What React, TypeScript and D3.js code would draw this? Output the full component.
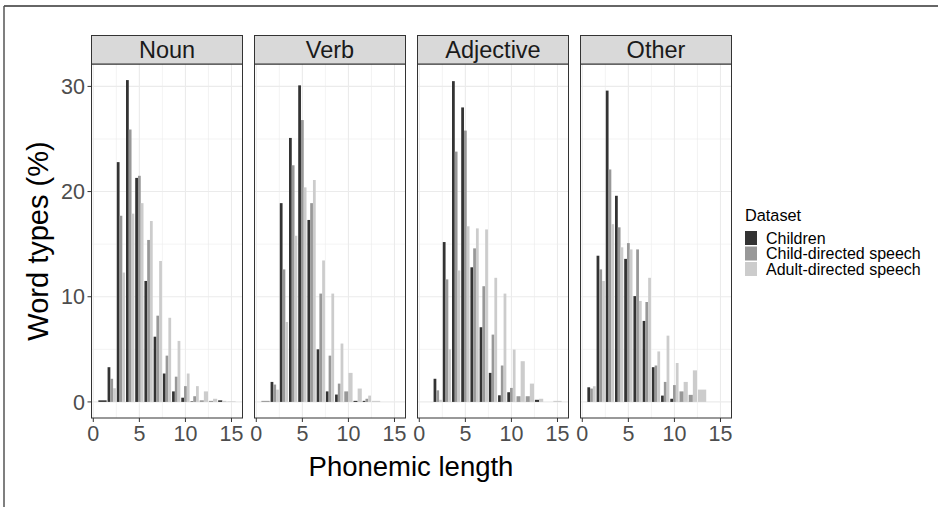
import React from "react";
import * as d3 from "d3";

const categories = ["Noun", "Verb", "Adjective", "Other"];
const datasets = ["Children", "Child-directed speech", "Adult-directed speech"];
const colors = ["#333333", "#989898", "#CCCCCC"];
const lengths = [1, 2, 3, 4, 5, 6, 7, 8, 9, 10, 11, 12, 13, 14, 15];
const xTicks = [0, 5, 10, 15];
const xMinor = [2.5, 7.5, 12.5];
const yTicks = [0, 10, 20, 30];
const yMinor = [5, 15, 25];

type V = number | null;

const nounChildren: V[] = [0.15, 3.3, 22.8, 30.6, 21.3, 11.5, 6.2, 2.7, 1.0, 0.4, 0.05, null, null, 0.15, null];
const nounCDS: V[] = [null, 2.2, 17.7, 25.9, 21.5, 15.4, 8.2, 4.4, 2.4, 1.5, 0.54, 0.15, 0.1, null, null];
const nounADS: V[] = [null, 1.3, 12.3, 17.9, 18.9, 17.2, 13.4, 8.0, 5.8, 2.7, 1.5, 1.0, 0.3, 0.1, 0.05];

const verbChildren: V[] = [null, 1.9, 18.9, 25.1, 30.1, 17.3, 5.0, 1.0, 0.7, null, 0.1, 0.1, null, null, null];
const verbCDS: V[] = [0.1, 1.65, 12.6, 22.5, 26.8, 18.9, 10.3, 4.4, 1.74, 1.0, null, 0.3, null, null, null];
const verbADS: V[] = [null, 1.17, 7.6, 15.8, 20.4, 21.1, 13.45, 10.3, 5.55, 2.76, 1.27, 0.6, 0.1, null, null];

const adjChildren: V[] = [null, 2.2, 15.2, 30.5, 28.0, 12.8, 7.1, 2.76, 0.63, 0.92, null, null, 0.2, null, null];
const adjCDS: V[] = [null, 1.1, 11.65, 23.8, 25.8, 14.6, 11.0, 6.4, 3.46, 1.33, 0.54, 0.54, null, null, null];
const adjADS: V[] = [null, 0.2, 5.0, 12.5, 16.7, 16.5, 16.4, 11.8, 10.3, 4.98, 3.87, 1.74, 0.3, null, 0.1];

const otherChildren: V[] = [1.39, 13.9, 29.6, 19.6, 13.6, 10.06, 7.7, 3.3, 0.6, 0.3, null, null, null, null, null];
const otherCDS: V[] = [1.27, 12.6, 22.1, 16.6, 15.1, 14.5, 9.5, 3.46, 1.9, 1.6, 1.0, 0.67, null, null, null];
const otherADS: V[] = [1.49, 11.5, 16.9, 14.7, 14.5, 9.6, 11.8, 4.8, 6.3, 3.7, 1.9, 3.0, 1.17, null, null];

const seriesByCategory: V[][][] = [
  [nounChildren, nounCDS, nounADS],
  [verbChildren, verbCDS, verbADS],
  [adjChildren, adjCDS, adjADS],
  [otherChildren, otherCDS, otherADS],
];

const FONT = "'Liberation Sans', Arial, Helvetica, sans-serif";

export default function App() {
  const W = 938;
  const H = 507;
  const panelLeft0 = 91.5;
  const panelW = 151;
  const panelStep = 163;
  const stripTop = 35.5;
  const plotTop = 64;
  const plotBottom = 418;

  const x = d3.scaleLinear().domain([-0.195, 16.195]).range([0, panelW]);
  const y = d3.scaleLinear().domain([-1.53, 32.13]).range([plotBottom, plotTop]);

  const panels = categories.map((cat, ci) => {
    const left = panelLeft0 + ci * panelStep;
    const series = seriesByCategory[ci];
    const bars: React.ReactNode[] = [];
    lengths.forEach((len, li) => {
      const present = datasets
        .map((_, di) => ({ di, v: series[di][li] }))
        .filter((d) => d.v !== null) as { di: number; v: number }[];
      const n = present.length;
      if (!n) return;
      const w = 0.9 / n;
      present.forEach((d, k) => {
        const s = len - 0.45 + k * w;
        const bx = left + x(s);
        const bw = x(s + w) - x(s);
        const by = y(d.v);
        bars.push(
          <rect
            key={`${ci}-${li}-${d.di}`}
            x={bx}
            y={by}
            width={bw}
            height={Math.max(0, y(0) - by)}
            fill={colors[d.di]}
          />
        );
      });
    });
    return (
      <g key={cat}>
        <rect x={left} y={plotTop} width={panelW} height={plotBottom - plotTop} fill="#FFFFFF" />
        {yMinor.map((t) => (
          <line key={`ym${t}`} x1={left} x2={left + panelW} y1={y(t)} y2={y(t)} stroke="#EBEBEB" strokeWidth={0.6} />
        ))}
        {xMinor.map((t) => (
          <line key={`xm${t}`} x1={left + x(t)} x2={left + x(t)} y1={plotTop} y2={plotBottom} stroke="#EBEBEB" strokeWidth={0.6} />
        ))}
        {yTicks.map((t) => (
          <line key={`yM${t}`} x1={left} x2={left + panelW} y1={y(t)} y2={y(t)} stroke="#EBEBEB" strokeWidth={1.1} />
        ))}
        {xTicks.map((t) => (
          <line key={`xM${t}`} x1={left + x(t)} x2={left + x(t)} y1={plotTop} y2={plotBottom} stroke="#EBEBEB" strokeWidth={1.1} />
        ))}
        {bars}
        <rect x={left} y={plotTop} width={panelW} height={plotBottom - plotTop} fill="none" stroke="#333333" strokeWidth={1} />
        <rect x={left} y={stripTop} width={panelW} height={plotTop - stripTop} fill="#D9D9D9" stroke="#333333" strokeWidth={1} />
        <text x={left + panelW / 2} y={(stripTop + plotTop) / 2} dy="0.36em" textAnchor="middle" fontSize={23.5} fill="#1A1A1A" fontFamily={FONT}>
          {cat}
        </text>
        {xTicks.map((t) => (
          <g key={`xt${t}`}>
            <line x1={left + x(t)} x2={left + x(t)} y1={plotBottom} y2={plotBottom + 4} stroke="#333333" strokeWidth={1} />
            <text x={left + x(t)} y={441} textAnchor="middle" fontSize={21.5} fill="#4D4D4D" fontFamily={FONT}>
              {t}
            </text>
          </g>
        ))}
      </g>
    );
  });

  const legendX = 745;
  const legendY0 = 231;
  const keyH = 15.5;

  return (
    <svg width={W} height={H} style={{ position: "absolute", left: 0, top: 0 }} fontFamily={FONT}>
      <rect x={0} y={0} width={W} height={H} fill="#FFFFFF" />
      <line x1={4} x2={W} y1={6} y2={6} stroke="#333333" strokeWidth={1.5} />
      <line x1={4} x2={4} y1={6} y2={H} stroke="#555555" strokeWidth={1.5} />
      {panels}
      {yTicks.map((t) => (
        <g key={`yt${t}`}>
          <line x1={panelLeft0 - 4} x2={panelLeft0} y1={y(t)} y2={y(t)} stroke="#333333" strokeWidth={1} />
          <text x={panelLeft0 - 6.5} y={y(t)} dy="0.36em" textAnchor="end" fontSize={21.5} fill="#4D4D4D">
            {t}
          </text>
        </g>
      ))}
      <text x={411} y={476} textAnchor="middle" fontSize={27.5} fill="#000000">
        Phonemic length
      </text>
      <text transform={`translate(48, ${(plotTop + plotBottom) / 2}) rotate(-90)`} textAnchor="middle" fontSize={29} fill="#000000">
        Word types (%)
      </text>
      <text x={legendX} y={221} fontSize={16.3} fill="#000000">
        Dataset
      </text>
      {datasets.map((d, i) => (
        <g key={d}>
          <rect x={legendX} y={legendY0 + i * keyH} width={12} height={keyH - 1.5} fill={colors[i]} />
          <text x={legendX + 21} y={legendY0 + i * keyH + (keyH - 1.5) / 2} dy="0.36em" fontSize={16} fill="#000000">
            {d}
          </text>
        </g>
      ))}
    </svg>
  );
}
